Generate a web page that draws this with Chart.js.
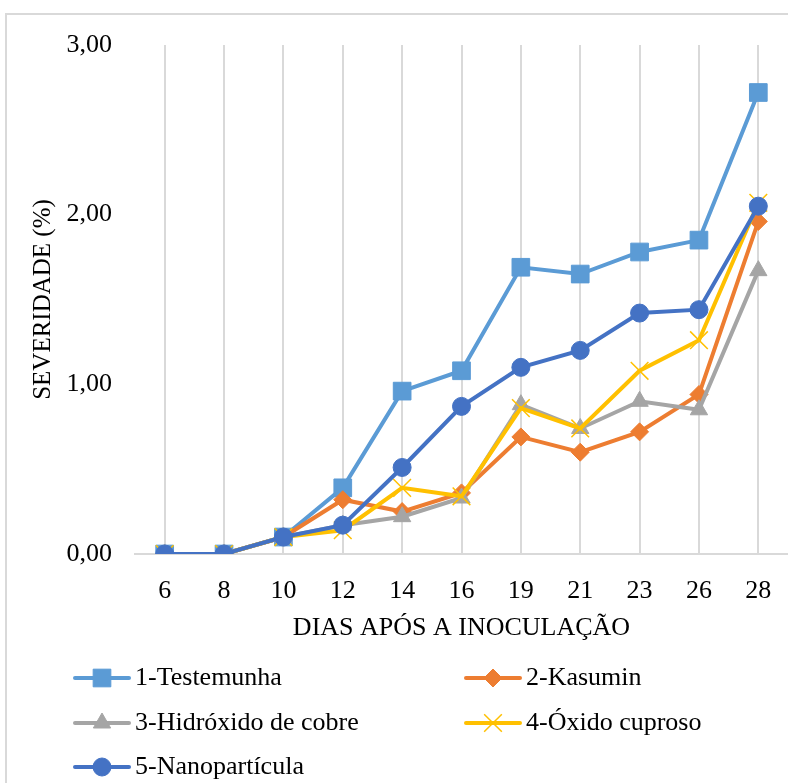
<!DOCTYPE html>
<html>
<head>
<meta charset="utf-8">
<script src="https://cdn.jsdelivr.net/npm/chart.js@4.4.0/dist/chart.umd.min.js"></script>
<style>
  html, body { margin: 0; padding: 0; background: #fff; overflow: hidden; }
  #frame { position: absolute; left: 5px; top: 13px; width: 820px; height: 820px; border: 2px solid #d9d9d9; box-sizing: border-box; }
  #wrap { position: absolute; left: 0; top: 0; width: 788px; height: 783px; }
</style>
</head>
<body>
<div id="frame"></div>
<div id="wrap"><canvas id="c" width="788" height="783"></canvas></div>
<script>
const categories = ['6', '8', '10', '12', '14', '16', '19', '21', '23', '26', '28'];
const testemunha   = [0, 0, 0.10, 0.39, 0.96, 1.08, 1.69, 1.65, 1.78, 1.85, 2.72];
const kasumin      = [0, 0, 0.10, 0.32, 0.25, 0.36, 0.69, 0.60, 0.72, 0.94, 1.96];
const hidroxido    = [0, 0, 0.10, 0.17, 0.22, 0.33, 0.88, 0.74, 0.90, 0.85, 1.67];
const oxido        = [0, 0, 0.10, 0.14, 0.39, 0.34, 0.86, 0.74, 1.08, 1.26, 2.07];
const nano         = [0, 0, 0.10, 0.17, 0.51, 0.87, 1.10, 1.20, 1.42, 1.44, 2.05];
const seriesNames  = ['1-Testemunha', '2-Kasumin', '3-Hidróxido de cobre', '4-Óxido cuproso', '5-Nanopartícula'];
const yTicks = [0, 1, 2, 3];

const FONT = '"Liberation Serif", "Times New Roman", serif';

function ds(label, data, color, style, radius, order, bw) {
  return {
    label, data,
    borderColor: color, backgroundColor: color,
    pointBackgroundColor: color, pointBorderColor: color,
    pointStyle: style, pointRadius: radius, pointHoverRadius: radius,
    pointBorderWidth: bw || 1,
    borderWidth: 4, tension: 0, order
  };
}

const datasets = [
  ds(seriesNames[0], testemunha, '#5B9BD5', 'rect', 12.5, 5),
  ds(seriesNames[1], kasumin, '#ED7D31', 'rectRot', 9, 4),
  ds(seriesNames[2], hidroxido, '#A5A5A5', 'triangle', 10, 3),
  ds(seriesNames[3], oxido, '#FFC000', 'crossRot', 12.5, 2, 1.5),
  ds(seriesNames[4], nano, '#4472C4', 'circle', 9, 1)
];

const legendPlugin = {
  id: 'gridLegend',
  afterDraw(chart) {
    const ctx = chart.ctx;
    const cols = [75, 466];
    const rows = [678, 723, 767];
    const segLen = 54;
    ctx.save();
    chart.data.datasets.forEach((d, i) => {
      const x = cols[i % 2];
      const y = rows[Math.floor(i / 2)];
      ctx.strokeStyle = d.borderColor;
      ctx.lineWidth = 4;
      ctx.lineCap = 'round';
      ctx.beginPath();
      ctx.moveTo(x, y);
      ctx.lineTo(x + segLen, y);
      ctx.stroke();
      ctx.lineCap = 'butt';
      ctx.fillStyle = d.pointBackgroundColor;
      ctx.strokeStyle = d.pointBorderColor;
      ctx.lineWidth = d.pointBorderWidth;
      Chart.helpers.drawPoint(ctx, { pointStyle: d.pointStyle, radius: d.pointRadius, rotation: 0, borderWidth: d.pointBorderWidth }, x + segLen / 2, y);
      ctx.fillStyle = '#000';
      ctx.font = '26px ' + FONT;
      ctx.textBaseline = 'middle';
      ctx.textAlign = 'left';
      ctx.fillText(d.label, x + segLen + 6, y);
    });
    ctx.restore();
  }
};

new Chart(document.getElementById('c'), {
  type: 'line',
  data: { labels: categories, datasets },
  plugins: [legendPlugin],
  options: {
    responsive: false,
    animation: false,
    devicePixelRatio: 1,
    layout: { autoPadding: false, padding: { left: 0, right: 0, top: 45, bottom: 138 } },
    plugins: { legend: { display: false }, tooltip: { enabled: false } },
    scales: {
      x: {
        offset: true,
        grid: { display: true, offset: false, color: '#d9d9d9', lineWidth: 2, drawTicks: false },
        border: { display: true, color: '#d9d9d9', width: 2 },
        ticks: { color: '#000', font: { family: FONT, size: 26 }, padding: 22, maxRotation: 0, autoSkip: false },
        title: { display: true, text: 'DIAS APÓS A INOCULAÇÃO', color: '#000', font: { family: FONT, size: 26 }, padding: { top: 0, bottom: 1 } },
        afterFit(s) { s.height = 91; s.paddingLeft = 0; s.paddingRight = 0; }
      },
      y: {
        min: 0, max: 3,
        afterBuildTicks(s) { s.ticks = yTicks.map(v => ({ value: v })); },
        grid: { display: false, drawTicks: false },
        border: { display: false },
        ticks: { color: '#000', font: { family: FONT, size: 26 }, padding: 23, callback: v => Number(v).toFixed(2).replace('.', ',') },
        title: { display: true, text: 'SEVERIDADE (%)', color: '#000', font: { family: FONT, size: 25 }, padding: { top: 28, bottom: 0 } },
        afterFit(s) { s.width = 135; s.paddingTop = 0; s.paddingBottom = 0; }
      }
    }
  }
});
</script>
</body>
</html>
